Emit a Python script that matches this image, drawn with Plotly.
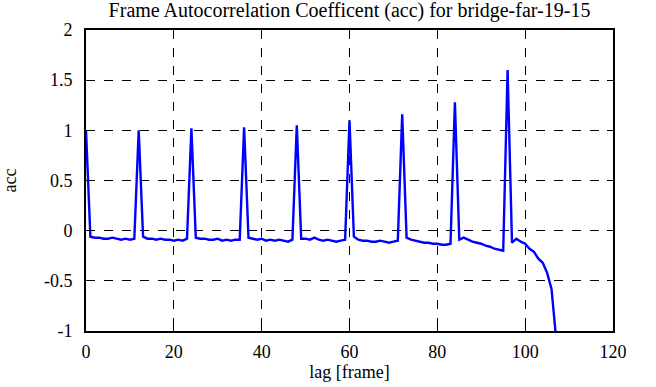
import plotly.graph_objects as go

lag = list(range(0, 108))
acc = [
    1.00, -0.06, -0.07, -0.07, -0.08, -0.08, -0.07, -0.08, -0.09, -0.08, -0.09, -0.08,
    1.00, -0.06, -0.08, -0.08, -0.09, -0.08, -0.09, -0.09, -0.10, -0.09, -0.10, -0.08,
    1.02, -0.07, -0.08, -0.08, -0.09, -0.09, -0.08, -0.10, -0.09, -0.10, -0.09, -0.09,
    1.03, -0.07, -0.08, -0.09, -0.08, -0.10, -0.09, -0.10, -0.09, -0.10, -0.11, -0.09,
    1.05, -0.08, -0.08, -0.09, -0.07, -0.09, -0.10, -0.09, -0.10, -0.11, -0.10, -0.09,
    1.10, -0.06, -0.09, -0.10, -0.10, -0.11, -0.11, -0.10, -0.11, -0.12, -0.11, -0.10,
    1.16, -0.07, -0.09, -0.10, -0.11, -0.12, -0.12, -0.13, -0.13, -0.14, -0.14, -0.13,
    1.28, -0.09, -0.07, -0.09, -0.11, -0.12, -0.13, -0.15, -0.16, -0.18, -0.19, -0.20,
    1.60, -0.12, -0.08, -0.11, -0.13, -0.18, -0.21, -0.28, -0.32, -0.42, -0.58, -1.05,
]

x_ticks = [0, 20, 40, 60, 80, 100, 120]
y_ticks = [-1, -0.5, 0, 0.5, 1, 1.5, 2]
y_tick_text = ["-1", "-0.5", "0", "0.5", "1", "1.5", "2"]

font = "Liberation Serif, serif"

fig = go.Figure()
fig.add_trace(go.Scatter(
    x=lag, y=acc, mode="lines",
    line=dict(color="#0000ff", width=2.4),
    showlegend=False,
))

axis_common = dict(
    showline=True, linecolor="black", linewidth=2, mirror="ticks",
    ticks="inside", ticklen=6, tickwidth=1, tickcolor="black",
    showgrid=True, gridcolor="black", gridwidth=1, griddash="dash",
    zeroline=False, automargin=False,
    tickfont=dict(family=font, size=18, color="black"),
)

fig.update_layout(
    width=656, height=387,
    margin=dict(l=86, r=43, t=30, b=56),
    paper_bgcolor="white", plot_bgcolor="white",
    font=dict(family=font, color="black", size=18),
    title=dict(
        text="Frame Autocorrelation Coefficent (acc) for bridge-far-19-15",
        x=0.5, xref="paper", xanchor="center",
        y=1 - 10 / 387, yref="container", yanchor="middle",
        font=dict(family=font, size=20, color="black"),
    ),
    xaxis=dict(
        range=[0, 120], tickvals=x_ticks, ticklabelstandoff=3,
        title=dict(text="lag [frame]", font=dict(family=font, size=18), standoff=5),
        **axis_common,
    ),
    yaxis=dict(
        range=[-1, 2], tickvals=y_ticks, ticktext=y_tick_text, ticklabelstandoff=8,
        title=dict(text="acc", font=dict(family=font, size=18), standoff=28),
        **axis_common,
    ),
)

fig.write_html(
    "out.html",
    config={"displayModeBar": False},
    post_script="document.body.style.margin='0';",
)
